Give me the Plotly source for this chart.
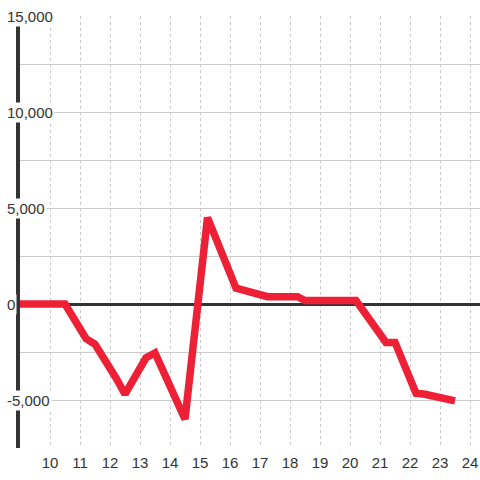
import plotly.graph_objects as go

# data
x_vals = [9, 10.5, 11.2, 11.5, 12.2, 12.5, 13.2, 13.5, 14.5, 15.25, 16.2, 17.25, 18.25, 18.5, 20.2, 21.2, 21.5, 22.2, 22.5, 23.5]
y_vals = [0, 0, -1800, -2100, -3850, -4700, -2800, -2550, -6000, 4500, 830, 380, 380, 180, 180, -2000, -2000, -4650, -4700, -5050]
x_ticks = [10, 11, 12, 13, 14, 15, 16, 17, 18, 19, 20, 21, 22, 23, 24]
y_ticks = [15000, 10000, 5000, 0, -5000]
y_tick_labels = ["15,000", "10,000", "5,000", "0", "-5,000"]
y_grid = [-7500, -5000, -2500, 0, 2500, 5000, 7500, 10000, 12500, 15000]

FONT = "Liberation Sans, Arial, sans-serif"
TXT = "#333333"

fig = go.Figure()
fig.add_trace(go.Scatter(
    x=x_vals, y=y_vals, mode="lines",
    line=dict(color="#EE2036", width=7.5),
    hoverinfo="skip", showlegend=False,
))

fig.update_layout(
    width=480, height=480,
    margin=dict(l=20, r=0, t=16, b=32),
    paper_bgcolor="white", plot_bgcolor="white",
    font=dict(family=FONT, size=15, color=TXT),
    showlegend=False,
)
fig.update_xaxes(
    range=[9, 24.333], tickvals=x_ticks, ticktext=[str(t) for t in x_ticks],
    showgrid=True, gridcolor="#c8c8c8", griddash="dot", gridwidth=1,
    zeroline=False, showline=False, ticks="", ticklabelstandoff=4,
    ticklabeloverflow="allow",
    tickfont=dict(family=FONT, size=15, color=TXT),
)
fig.update_yaxes(
    range=[-7500, 15000], tickvals=y_grid, showticklabels=False,
    showgrid=True, gridcolor="#cccccc", gridwidth=1,
    zeroline=True, zerolinecolor="#333333", zerolinewidth=3,
    showline=True, linecolor="#333333", linewidth=4, ticks="",
)

for v, t in zip(y_ticks, y_tick_labels):
    fig.add_annotation(
        x=0, xref="paper", y=v, yref="y", text=t, showarrow=False,
        xanchor="left", yanchor="middle", xshift=-15,
        bgcolor="white", borderpad=1,
        font=dict(family=FONT, size=15, color=TXT),
    )

fig.write_html(
    "out.html",
    config={"displayModeBar": False, "staticPlot": True},
    post_script="document.body.style.margin='0';document.body.style.overflow='hidden';",
)
